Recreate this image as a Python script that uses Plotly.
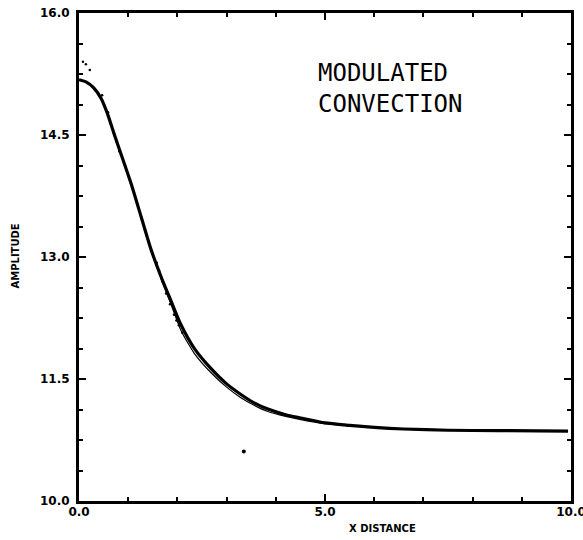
import plotly.graph_objects as go

# Main (thick) curve
x_main = [0, 0.15, 0.3, 0.45, 0.58, 0.71, 0.88, 1.06, 1.26, 1.46, 1.66, 1.87, 2.07, 2.35,
          2.68, 3.0, 3.29, 3.55, 3.84, 4.2, 4.51, 5.0, 5.5, 6.0, 6.6, 7.5, 8.5, 9.94]
y_main = [15.18, 15.15, 15.08, 14.95, 14.76, 14.52, 14.22, 13.9, 13.5, 13.1, 12.77, 12.46,
          12.17, 11.87, 11.63, 11.44, 11.31, 11.21, 11.13, 11.06, 11.02, 10.96, 10.93,
          10.905, 10.885, 10.87, 10.865, 10.86]

# Second (thin) curve, slightly below in the knee region
x_thin = [1.66, 1.87, 2.07, 2.35, 2.68, 3.0, 3.29, 3.55, 3.84, 4.2, 4.51, 5.0, 5.5, 6.0]
y_thin = [12.74, 12.42, 12.10, 11.81, 11.58, 11.40, 11.27, 11.18, 11.10, 11.04, 11.00,
          10.95, 10.925, 10.905]

# Dotted series
x_dots = [0.08, 0.14, 0.22, 0.47, 0.59, 0.65, 0.72, 0.76, 0.82, 1.58, 1.63, 1.70, 1.77,
          1.85, 1.93, 1.98, 2.03, 2.10]
y_dots = [15.40, 15.37, 15.30, 14.99, 14.78, 14.63, 14.50, 14.42, 14.30, 12.93, 12.83,
          12.70, 12.55, 12.42, 12.29, 12.22, 12.16, 12.07]

# Isolated point
x_single = [3.35]
y_single = [10.61]

fig = go.Figure()
fig.add_trace(go.Scatter(x=x_main, y=y_main, mode="lines",
                         line=dict(color="black", width=3.2, shape="spline", smoothing=0.6)))
fig.add_trace(go.Scatter(x=x_thin, y=y_thin, mode="lines",
                         line=dict(color="black", width=1.2, shape="spline", smoothing=0.6)))
fig.add_trace(go.Scatter(x=x_dots, y=y_dots, mode="markers",
                         marker=dict(color="black", size=2.5)))
fig.add_trace(go.Scatter(x=x_single, y=y_single, mode="markers",
                         marker=dict(color="black", size=4)))

tickfont = dict(family="DejaVu Sans", size=12, color="black", weight="bold")

fig.update_xaxes(range=[0, 10], tickmode="linear", tick0=0, dtick=5, tickformat=".1f",
                 ticklabeloverflow="allow", automargin=False, ticklabelstandoff=-2,
                 showline=True, linecolor="black", linewidth=3, mirror="ticks",
                 ticks="inside", ticklen=7, tickwidth=2, tickcolor="black",
                 minor=dict(tick0=0, dtick=1, ticks="inside", ticklen=4, tickwidth=2,
                            tickcolor="black", showgrid=False),
                 showgrid=False, zeroline=False, tickfont=tickfont)
fig.update_yaxes(range=[10, 16], tickmode="linear", tick0=10, dtick=1.5, tickformat=".1f",
                 ticklabeloverflow="allow", automargin=False, ticklabelstandoff=4,
                 showline=True, linecolor="black", linewidth=3, mirror="ticks",
                 ticks="inside", ticklen=7, tickwidth=2, tickcolor="black",
                 minor=dict(tick0=10, dtick=0.375, ticks="inside", ticklen=4, tickwidth=2,
                            tickcolor="black", showgrid=False),
                 showgrid=False, zeroline=False, tickfont=tickfont)

labelfont = dict(family="DejaVu Sans", size=10, color="black", weight="bold")

fig.add_annotation(text="MODULATED<br>CONVECTION", xref="x", yref="y", x=4.82, y=15.07,
                   xanchor="left", yanchor="middle", align="left", showarrow=False,
                   font=dict(family="DejaVu Sans Mono", size=24, color="black"))
fig.add_annotation(text="X DISTANCE", xref="paper", yref="paper",
                   x=(382 - 79) / 492, y=-(528 - 501) / 488, xanchor="center", yanchor="middle",
                   showarrow=False, font=labelfont)
fig.add_annotation(text="AMPLITUDE", xref="paper", yref="paper",
                   x=-(79 - 14.5) / 492, y=(501 - 256) / 488, xanchor="center", yanchor="middle",
                   textangle=-90, showarrow=False, font=labelfont)

fig.update_layout(width=583, height=540, margin=dict(l=79, r=12, t=13, b=39),
                  plot_bgcolor="white", paper_bgcolor="white", showlegend=False)

fig.write_html("out.html")
